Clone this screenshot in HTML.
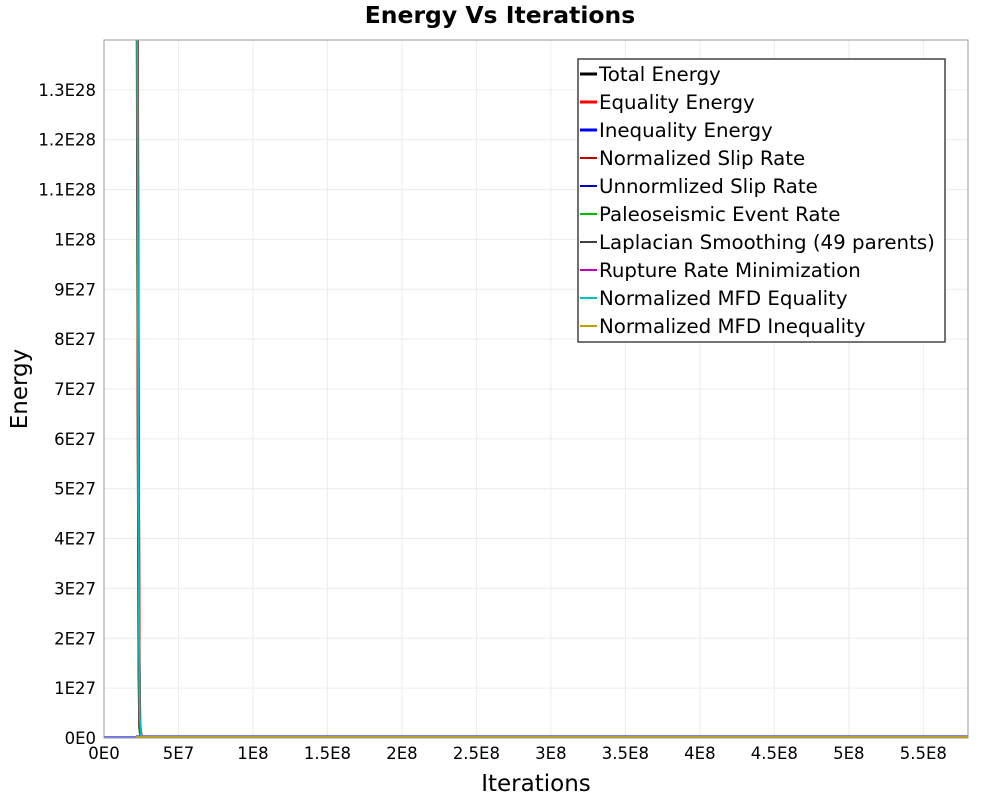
<!DOCTYPE html>
<html><head><meta charset="utf-8"><style>
body{margin:0;background:#fff;}
svg text{font-family:"DejaVu Sans","Liberation Sans",sans-serif;}
</style></head><body>
<svg id="chart" width="1000" height="800" xmlns="http://www.w3.org/2000/svg">
<rect width="1000" height="800" fill="#fff"/>
<text x="500" y="23" text-anchor="middle" font-size="23.5" font-weight="bold">Energy Vs Iterations</text>
<g id="grid"></g>
<g id="ticks"></g>
<defs><clipPath id="clip"><rect x="104" y="40" width="864" height="698"/></clipPath></defs>
<g id="series" clip-path="url(#clip)"></g>
<rect x="104" y="40" width="864" height="698" fill="none" stroke="#999" stroke-width="1"/>
<text x="536" y="791" text-anchor="middle" font-size="23">Iterations</text>
<text transform="translate(27,389) rotate(-90)" text-anchor="middle" font-size="23">Energy</text>
<g id="legend"></g>
</svg>
<script>
const xTicks=[0,5e7,1e8,1.5e8,2e8,2.5e8,3e8,3.5e8,4e8,4.5e8,5e8,5.5e8];
const xTickLabels=["0E0","5E7","1E8","1.5E8","2E8","2.5E8","3E8","3.5E8","4E8","4.5E8","5E8","5.5E8"];
const yTicks=[0,1e27,2e27,3e27,4e27,5e27,6e27,7e27,8e27,9e27,1e28,1.1e28,1.2e28,1.3e28];
const yTickLabels=["0E0","1E27","2E27","3E27","4E27","5E27","6E27","7E27","8E27","9E27","1E28","1.1E28","1.2E28","1.3E28"];
const iterations=[2.15e7,2.2e7,2.25e7,2.3e7,2.35e7,2.4e7,2.5e7,1e8,5.8e8];
const seriesNames=["Total Energy","Equality Energy","Inequality Energy","Normalized Slip Rate","Unnormlized Slip Rate","Paleoseismic Event Rate","Laplacian Smoothing (49 parents)","Rupture Rate Minimization","Normalized MFD Equality","Normalized MFD Inequality"];
const seriesColors=["#000","#f00","#00f","#c00000","#0000c0","#00c000","#404040","#c000c0","#00c0c0","#c0a000"];
const seriesWidths=[3,3,3,2,2,2,2,2,2,2];
const totalEnergy=[3e28,2e28,1.2e28,6e27,1.5e27,2e26,1e25,1e24,1e24];
const equalityEnergy=[3e28,2.2e28,1.3e28,6.5e27,1.8e27,3e26,1e25,1e24,1e24];
const inequalityEnergy=[0,0,0,0,0,0,0,0,0];
const normSlip=[3e28,2.3e28,1.4e28,7e27,2e27,3e26,1e25,1e24,1e24];
const unnormSlip=[0,0,0,0,0,0,0,0,0];
const paleo=[2.5e28,1.8e28,1.1e28,5e27,1.2e27,1e26,1e25,1e24,1e24];
const laplacian=[2.8e28,2e28,1.2e28,5.5e27,1.4e27,1.5e26,1e25,1e24,1e24];
const ruptureMin=[0,0,0,0,0,0,0,0,0];
const mfdEq=[2.6e28,1.9e28,1.25e28,6e27,2.2e27,4e26,1e25,1e24,1e24];
const mfdIneq=[0,0,0,0,0,0,0,0,0];
const seriesData=[totalEnergy,equalityEnergy,inequalityEnergy,normSlip,unnormSlip,paleo,laplacian,ruptureMin,mfdEq,mfdIneq];
const X0=104,X1=968,Y0=738,Y1=40,xMax=5.8e8,yMax=1.4e28;
const xs=v=>X0+v/xMax*(X1-X0), ys=v=>Y0-v/yMax*(Y0-Y1);
const NS="http://www.w3.org/2000/svg";
function mk(t,a,p){const e=document.createElementNS(NS,t);for(const k in a)e.setAttribute(k,a[k]);p.appendChild(e);return e;}
const grid=document.getElementById('grid'),ticks=document.getElementById('ticks');
xTicks.forEach((v,i)=>{
 const l=mk('line',{x1:xs(v),x2:xs(v),y1:Y1,y2:Y0,stroke:'#ececec'},grid);
 
 const t=mk('text',{x:xs(v),y:759,'text-anchor':'middle','font-size':16.5},ticks);t.textContent=xTickLabels[i];
 
});
yTicks.forEach((v,i)=>{
 const l=mk('line',{x1:X0,x2:X1,y1:ys(v),y2:ys(v),stroke:'#ececec'},grid);
 
 const t=mk('text',{x:96,y:ys(v)+6,'text-anchor':'end','font-size':16.5},ticks);t.textContent=yTickLabels[i];
 
});
const sg=document.getElementById('series');
const base=mk('line',{x1:X0,x2:xs(iterations[0]),y1:Y0-1,y2:Y0-1,stroke:'#7070f0','stroke-width':2},sg);

for(let s=0;s<seriesData.length;s++){
 const d=seriesData[s].map((v,i)=>(i?'L':'M')+xs(iterations[i]).toFixed(2)+','+Math.min(ys(v),Y0-1).toFixed(2)).join('');
 const p=mk('path',{d:d,fill:'none',stroke:seriesColors[s],'stroke-width':seriesWidths[s]},sg);
 
}
const lg=document.getElementById('legend');
const box=mk('rect',{x:578,y:59,width:367,height:283,fill:'#fff',stroke:'#444','stroke-width':1.5},lg);

seriesNames.forEach((n,i)=>{
 const y=74+i*28;
 const l=mk('line',{x1:580,x2:597,y1:y,y2:y,stroke:seriesColors[i],'stroke-width':seriesWidths[i]},lg);
 
 const t=mk('text',{x:599,y:y+7,'font-size':19.8},lg);t.textContent=n;
 
});
</script>
</body></html>
